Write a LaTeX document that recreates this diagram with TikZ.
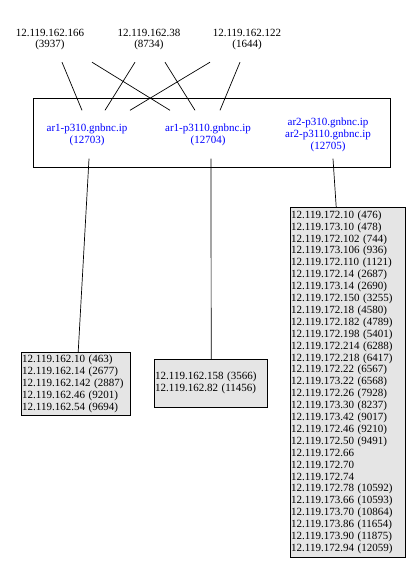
\documentclass[tikz,border=0pt]{standalone}
\usepackage{fontspec}
\setmainfont{Liberation Serif}
\usetikzlibrary{positioning}

\begin{document}
\begin{tikzpicture}[
  x=1pt,y=-1pt,
  font=\fontsize{11}{11.9}\selectfont,
  hostlbl/.style={align=center,minimum height=45pt,inner sep=0pt},
  routerlbl/.style={align=center,text=blue,minimum height=48pt,inner sep=0pt},
  ipbox/.style={draw,fill=black!10,align=left,inner xsep=1pt,inner ysep=0pt,anchor=north west},
  link/.style={line width=0.7pt}]
\useasboundingbox (0,0) rectangle (418,574);
% sources
\node[hostlbl] (h166) at (50,39.5)  {12.119.162.166\\(3937)};
\node[hostlbl] (h38)  at (149,39.5) {12.119.162.38\\(8734)};
\node[hostlbl] (h122) at (247,39.5) {12.119.162.122\\(1644)};
% router cluster
\draw[link] (33,98) rectangle (390,167);
\node[routerlbl] (p310)  at (87,134.5)  {ar1-p310.gnbnc.ip\\(12703)};
\node[routerlbl] (p3110) at (208,134.5) {ar1-p3110.gnbnc.ip\\(12704)};
\node[routerlbl] (ar2)   at (328,134.5) {ar2-p310.gnbnc.ip\\ar2-p3110.gnbnc.ip\\(12705)};
% source links
\draw[link] ([xshift=12pt]h166.south) -- ([xshift=-5pt]p310.north);
\draw[link] ([xshift=42pt]h166.south) -- ([xshift=-38pt]p3110.north);
\draw[link] ([xshift=-14pt]h38.south) -- ([xshift=18pt]p310.north);
\draw[link] ([xshift=16pt]h38.south) -- ([xshift=-13pt]p3110.north);
\draw[link] ([xshift=-37pt]h122.south) -- ([xshift=43pt]p310.north);
\draw[link] ([xshift=-7pt]h122.south) -- ([xshift=12pt]p3110.north);
% address lists
\node[ipbox,text width=107pt,minimum height=63pt] (list1) at (21,352)
  {12.119.162.10 (463)\\12.119.162.14 (2677)\\12.119.162.142 (2887)\\
   12.119.162.46 (9201)\\12.119.162.54 (9694)};
\node[ipbox,text width=111pt,minimum height=48pt] (list2) at (154,359)
  {12.119.162.158 (3566)\\12.119.162.82 (11456)};
\node[ipbox,text width=113pt,minimum height=350pt] (list3) at (290,207)
  {12.119.172.10 (476)\\12.119.173.10 (478)\\12.119.172.102 (744)\\
   12.119.173.106 (936)\\12.119.172.110 (1121)\\12.119.172.14 (2687)\\
   12.119.173.14 (2690)\\12.119.172.150 (3255)\\12.119.172.18 (4580)\\
   12.119.172.182 (4789)\\12.119.172.198 (5401)\\12.119.172.214 (6288)\\
   12.119.172.218 (6417)\\12.119.172.22 (6567)\\12.119.173.22 (6568)\\
   12.119.172.26 (7928)\\12.119.173.30 (8237)\\12.119.173.42 (9017)\\
   12.119.172.46 (9210)\\12.119.172.50 (9491)\\12.119.172.66\\
   12.119.172.70\\12.119.172.74\\12.119.172.78 (10592)\\
   12.119.173.66 (10593)\\12.119.173.70 (10864)\\12.119.173.86 (11654)\\
   12.119.173.90 (11875)\\12.119.172.94 (12059)};
% router links
\draw[link] ([xshift=2pt]p310.south) -- ([xshift=2.5pt]list1.north);
\draw[link] ([xshift=3pt]p3110.south) -- ([xshift=0.5pt]list2.north);
\draw[link] ([xshift=5pt]ar2.south) -- ([xshift=-11.5pt]list3.north);
\end{tikzpicture}
\end{document}
